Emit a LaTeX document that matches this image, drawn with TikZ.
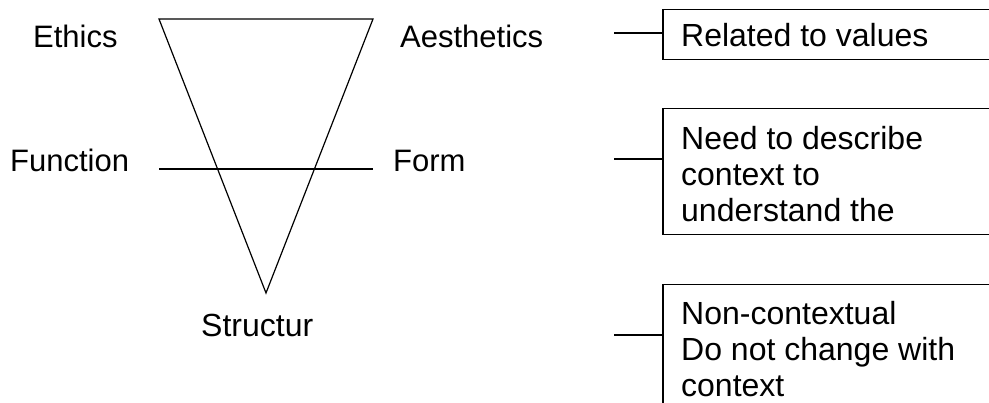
\documentclass[tikz,border=0pt]{standalone}
\usepackage{fontspec}
\setmainfont{Liberation Sans}
\begin{document}
\begin{tikzpicture}[x=1pt,y=-1pt,
  lbl/.style={font=\fontsize{31}{36}\selectfont, inner sep=0pt, anchor=base west},
  blbl/.style={font=\fontsize{32}{36}\selectfont, inner sep=0pt, anchor=base west},
  mlbl/.style={font=\fontsize{32}{36}\selectfont, inner sep=0pt, anchor=north west, align=left},
  boxshape/.style={draw, line width=1.5pt, anchor=north west, inner sep=0pt, minimum width=400pt},
  tri/.style={line width=1.2pt},
  conn/.style={line width=1.5pt}]
\useasboundingbox (0,0) rectangle (989,403);
\clip (0,0) rectangle (989,403);
% triangle
\coordinate (tl) at (159,19);
\coordinate (tr) at (373,19);
\coordinate (ap) at (266,293);
\coordinate (ml) at (159,169);
\coordinate (mr) at (373,169);
\draw[tri] (tl) -- (tr) -- (ap) -- cycle;
\draw[tri] (ml) -- (mr);
% labels
\node[lbl] (ethics) at (33,48) {Ethics};
\node[lbl] (aest) at (400,48) {Aesthetics};
\node[lbl] (func) at (10,172) {Function};
\node[lbl] (form) at (393,172) {Form};
\node[lbl, font=\fontsize{32}{36}\selectfont] (struc) at (201,337) {Structur};
% boxes
\node[boxshape, minimum height=50pt] (b1) at (662,9) {};
\node[boxshape, minimum height=126pt] (b2) at (662,108) {};
\node[boxshape, minimum height=200pt] (b3) at (662,284) {};
\node[blbl] (t1) at (681,47) {Related to values};
\node[mlbl] (t2) at (681,124) {\rule{0pt}{25pt}Need to describe\\context to\\understand the};
\node[mlbl] (t3) at (681,299) {\rule{0pt}{25pt}Non-contextual\\Do not change with\\context};
% connectors
\coordinate (c1) at (614,33);
\coordinate (c2) at (614,159);
\coordinate (c3) at (614,335);
\draw[conn] (c1) -- (c1 -| b1.west);
\draw[conn] (c2) -- (c2 -| b2.west);
\draw[conn] (c3) -- (c3 -| b3.west);
\end{tikzpicture}
\end{document}
